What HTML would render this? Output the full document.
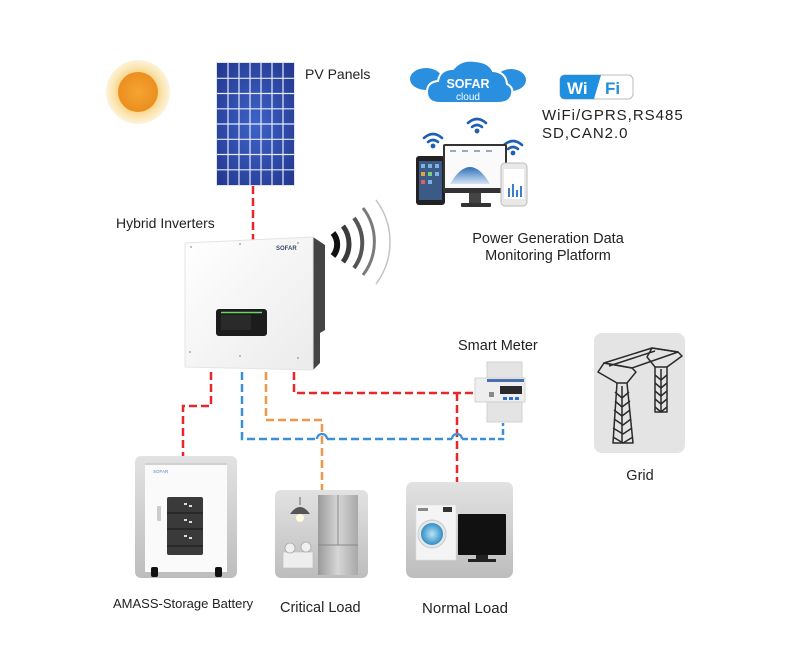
<!DOCTYPE html>
<html><head><meta charset="utf-8"><style>
html,body{margin:0;padding:0;background:#fff;}
svg{display:block;}
text{font-family:"Liberation Sans",Arial,sans-serif;fill:#222;}
</style></head><body>
<svg width="800" height="660" viewBox="0 0 800 660" xmlns="http://www.w3.org/2000/svg">
<defs>
<radialGradient id="sun" cx="50%" cy="50%" r="50%"><stop offset="0" stop-color="#f4a433"/><stop offset="1" stop-color="#ec8f1e"/></radialGradient>
<radialGradient id="halo" cx="50%" cy="50%" r="50%"><stop offset="0.6" stop-color="#f8d48a"/><stop offset="0.8" stop-color="#fbe6b4"/><stop offset="1" stop-color="#fdf3dc"/></radialGradient>
<radialGradient id="pv" cx="50%" cy="50%" r="70%"><stop offset="0" stop-color="#3e63c8"/><stop offset="1" stop-color="#23378e"/></radialGradient>
<linearGradient id="inv" x1="0" y1="0" x2="1" y2="1"><stop offset="0" stop-color="#ffffff"/><stop offset="1" stop-color="#ebebeb"/></linearGradient>
<linearGradient id="box" x1="0" y1="0" x2="0" y2="1"><stop offset="0" stop-color="#e2e2e2"/><stop offset="1" stop-color="#bdbdbd"/></linearGradient>
<linearGradient id="fridge" x1="0" y1="0" x2="1" y2="0"><stop offset="0" stop-color="#9a9a9a"/><stop offset="0.5" stop-color="#d6d6d6"/><stop offset="1" stop-color="#a8a8a8"/></linearGradient>
<radialGradient id="drum" cx="50%" cy="50%" r="50%"><stop offset="0" stop-color="#bfe3f5"/><stop offset="1" stop-color="#2f8fc8"/></radialGradient>
<linearGradient id="mount" x1="0" y1="0" x2="0" y2="1"><stop offset="0" stop-color="#2e6fb8"/><stop offset="1" stop-color="#d6e6f5"/></linearGradient>
</defs>

<!-- Sun -->
<circle cx="138" cy="92" r="32" fill="url(#halo)"/>
<circle cx="138" cy="92" r="20" fill="url(#sun)"/>

<!-- PV panel -->
<rect x="216" y="62" width="79" height="124" fill="#dfe3ee"/>
<rect x="217" y="63" width="77" height="122" fill="url(#pv)"/>
<g stroke="#e6ebf7" stroke-width="1.2">
<line x1="228" y1="63" x2="228" y2="185"/><line x1="239" y1="63" x2="239" y2="185"/><line x1="250" y1="63" x2="250" y2="185"/><line x1="261" y1="63" x2="261" y2="185"/><line x1="272" y1="63" x2="272" y2="185"/><line x1="283" y1="63" x2="283" y2="185"/>
<line x1="217" y1="78.3" x2="294" y2="78.3"/><line x1="217" y1="93.5" x2="294" y2="93.5"/><line x1="217" y1="108.8" x2="294" y2="108.8"/><line x1="217" y1="124" x2="294" y2="124"/><line x1="217" y1="139.3" x2="294" y2="139.3"/><line x1="217" y1="154.5" x2="294" y2="154.5"/><line x1="217" y1="169.8" x2="294" y2="169.8"/>
</g>
<text x="305" y="79" font-size="14">PV Panels</text>

<!-- Cloud -->
<g fill="#2b8fdf">
<ellipse cx="426" cy="79" rx="16" ry="11"/>
<ellipse cx="511" cy="80" rx="15" ry="11"/>
</g>
<g fill="#2b8fdf" stroke="#fff" stroke-width="2">
<path d="M440 103 Q427 103 427 92 Q427 82 438 81 Q440 69 453 69 Q461 59 475 61 Q489 62 493 71 Q506 72 507 84 Q515 88 511 97 Q508 103 498 103 Z"/>
</g>
<text x="468" y="88" font-size="12.5" font-weight="bold" text-anchor="middle" style="fill:#fff">SOFAR</text>
<text x="468" y="100" font-size="10" text-anchor="middle" style="fill:#fff">cloud</text>

<!-- WiFi logo -->
<rect x="560" y="75" width="73" height="24" rx="5" fill="#fff" stroke="#bbb" stroke-width="1"/>
<path d="M565 75 L601 75 L594 99 L565 99 Q560 99 560 94 L560 80 Q560 75 565 75 Z" fill="#1f8fe0"/>
<text x="567" y="94" font-size="17" font-weight="bold" style="fill:#fff">Wi</text>
<text x="605" y="94" font-size="17" font-weight="bold" style="fill:#1f8fe0">Fi</text>
<text x="542" y="120" font-size="15" letter-spacing="1">WiFi/GPRS,RS485</text>
<text x="542" y="138" font-size="15" letter-spacing="1">SD,CAN2.0</text>

<!-- Wifi icons -->
<g fill="none" stroke="#1c5fb4" stroke-width="2.6" stroke-linecap="round">
<path d="M424 138 Q433 130 442 138"/><path d="M428 142 Q433 138 438 142"/>
<path d="M468 123 Q477 115 486 123"/><path d="M472 127 Q477 123 482 127"/>
<path d="M504 145 Q513 137 522 145"/><path d="M508 149 Q513 145 518 149"/>
</g>
<g fill="#1c5fb4"><circle cx="433" cy="146" r="2.4"/><circle cx="477" cy="131" r="2.4"/><circle cx="513" cy="153" r="2.4"/></g>

<!-- Devices -->
<rect x="416" y="156" width="29" height="49" rx="3" fill="#222"/>
<rect x="419" y="161" width="23" height="39" fill="#3b5b86"/>
<g fill="#7fb2e0"><rect x="421" y="164" width="4" height="4"/><rect x="428" y="164" width="4" height="4"/><rect x="435" y="164" width="4" height="4"/><rect x="421" y="172" width="4" height="4" fill="#e8a040"/><rect x="428" y="172" width="4" height="4" fill="#7ad07a"/><rect x="435" y="172" width="4" height="4"/><rect x="421" y="180" width="4" height="4" fill="#e06060"/><rect x="428" y="180" width="4" height="4"/></g>
<rect x="443" y="144" width="64" height="49" rx="2" fill="#333"/>
<rect x="445" y="146" width="60" height="42" fill="#fafafa"/>
<path d="M450 184 Q470 150 490 184 Z" fill="url(#mount)"/>
<g fill="#9ab"><rect x="450" y="150" width="6" height="2"/><rect x="462" y="150" width="6" height="2"/><rect x="474" y="150" width="6" height="2"/><rect x="486" y="150" width="6" height="2"/></g>
<rect x="469" y="193" width="12" height="11" fill="#444"/>
<rect x="461" y="203" width="30" height="4" rx="1" fill="#333"/>
<rect x="501" y="163" width="26" height="43" rx="4" fill="#e8e8e8" stroke="#bbb" stroke-width="1"/>
<rect x="504" y="169" width="20" height="30" fill="#fff"/>
<g fill="#3a7fc8"><rect x="508" y="188" width="2" height="9"/><rect x="512" y="184" width="2" height="13"/><rect x="516" y="190" width="2" height="7"/><rect x="520" y="186" width="2" height="11"/></g>

<text x="548" y="243" font-size="14.5" text-anchor="middle">Power Generation Data</text>
<text x="548" y="260" font-size="14.5" text-anchor="middle">Monitoring Platform</text>

<!-- Connectors -->
<g fill="none" stroke-width="2.5" stroke-dasharray="8 4">
<path d="M253 186 L253 240" stroke="#e8262b"/>
<path d="M211 372 L211 406 L183 406 L183 456" stroke="#e8262b"/>
<path d="M294 372 L294 393 L473 393" stroke="#e8262b"/>
<path d="M457 393 L457 482" stroke="#e8262b"/>
<path d="M266 372 L266 420 L322 420 L322 490" stroke="#f0984a"/>
<path d="M242 372 L242 439 L317 439" stroke="#3a8fd6"/>
<path d="M327 439 L452 439" stroke="#3a8fd6"/>
<path d="M462 439 L503 439 L503 423" stroke="#3a8fd6" stroke-dasharray="6 3"/>
</g>
<g fill="none" stroke="#3a8fd6" stroke-width="2.2">
<path d="M317 439 A5 5 0 0 1 327 439"/>
<path d="M452 439 A5 5 0 0 1 462 439"/>
</g>

<!-- Inverter -->
<text x="116" y="228" font-size="14">Hybrid Inverters</text>
<polygon points="313,237 325,245 325,330 320,333 320,363 313,370" fill="#444"/>
<polygon points="185,243 313,237 313,370 185,367" fill="url(#inv)" stroke="#e4e4e4" stroke-width="1"/>
<g fill="#aaa"><circle cx="191" cy="247" r="1"/><circle cx="240" cy="244" r="1"/><circle cx="298" cy="243" r="1"/><circle cx="190" cy="352" r="1"/><circle cx="240" cy="356" r="1"/><circle cx="298" cy="358" r="1"/></g>
<text x="276" y="250" font-size="6" font-weight="bold" style="fill:#3a4a6a">SOFAR</text>
<rect x="216" y="309" width="51" height="27" rx="3" fill="#1c1c1c"/>
<line x1="221" y1="312.5" x2="262" y2="312.5" stroke="#6fd46a" stroke-width="1.5"/>
<rect x="221" y="315" width="30" height="15" fill="#2a2a2a"/>

<!-- Signal waves -->
<g fill="none" stroke-linecap="butt">
<path d="M333 233 A18 18 0 0 1 333 256" stroke="#111" stroke-width="6"/>
<path d="M343 226 A30 30 0 0 1 343 262" stroke="#3a3a3a" stroke-width="5"/>
<path d="M354 218 A42 42 0 0 1 354 268" stroke="#555" stroke-width="4"/>
<path d="M363 208 A55 55 0 0 1 363 275" stroke="#7a7a7a" stroke-width="3"/>
<path d="M376 200 A70 70 0 0 1 376 284" stroke="#c4c4c4" stroke-width="1.5"/>
</g>

<!-- Smart meter -->
<text x="458" y="350" font-size="14.5">Smart Meter</text>
<rect x="487" y="362" width="35" height="18" fill="#e4e4e4" stroke="#ccc" stroke-width="0.8"/>
<rect x="475" y="378" width="50" height="24" fill="#eee" stroke="#ccc" stroke-width="0.8"/>
<rect x="487" y="402" width="35" height="20" fill="#e4e4e4" stroke="#ccc" stroke-width="0.8"/>
<rect x="487" y="379" width="37" height="3" fill="#4a6fb0"/>
<rect x="500" y="386" width="22" height="8" fill="#2a2a2a"/>
<g fill="#2a6fd0"><rect x="503" y="397" width="4" height="3"/><rect x="509" y="397" width="4" height="3"/><rect x="515" y="397" width="4" height="3"/></g>
<rect x="489" y="392" width="5" height="5" fill="#888"/>

<!-- Grid -->
<rect x="594" y="333" width="91" height="120" rx="8" fill="#e4e4e4"/>
<g fill="none" stroke="#2a2a2a" stroke-width="1.5" stroke-linejoin="round">
<path d="M604 363 L652 348 L678 352 L632 368 Z"/>
<path d="M609 366 L655 351"/>
<path d="M598 372 L604 363 L632 368 L636 372 L627 383 L617 383 Z"/>
<path d="M617 383 L613 443 L633 443 L627 383"/>
<path d="M615 392 L622 398 L629 392 M615 401 L622 407 L630 401 M614 410 L622 416 L630 410 M614 419 L623 425 L631 419 M613 428 L623 434 L632 428 M613 437 L623 443 L633 437"/>
<path d="M622 386 L622 443"/>
<path d="M647 357 L652 348 L678 352 L682 356 L667 367 L655 367 Z"/>
<path d="M655 367 L655 412 L667 412 L667 367"/>
<path d="M655 375 L661 380 L667 375 M655 383 L661 388 L667 383 M655 391 L661 396 L667 391 M655 399 L661 404 L667 399 M655 407 L661 412 L667 407"/>
<path d="M661 369 L661 412"/>
</g>
<text x="640" y="480" font-size="14.5" text-anchor="middle">Grid</text>

<!-- Battery -->
<rect x="135" y="456" width="102" height="122" rx="6" fill="url(#box)"/>
<rect x="145" y="463" width="82" height="109" fill="#fafafa"/>
<rect x="145" y="463" width="82" height="2" fill="#d0d0d0"/>
<text x="153" y="473" font-size="4.5" style="fill:#4a8ad0">SOFAR</text>
<rect x="157" y="506" width="4" height="15" rx="1" fill="#ccc"/>
<rect x="167" y="497" width="36" height="58" rx="2" fill="#3a3a3a"/>
<g stroke="#222" stroke-width="1.5"><line x1="167" y1="513" x2="203" y2="513"/><line x1="167" y1="529" x2="203" y2="529"/><line x1="167" y1="546" x2="203" y2="546"/></g>
<g fill="#ddd"><rect x="184" y="503" width="3" height="2"/><rect x="189" y="505" width="3" height="2"/><rect x="184" y="519" width="3" height="2"/><rect x="189" y="521" width="3" height="2"/><rect x="184" y="535" width="3" height="2"/><rect x="189" y="537" width="3" height="2"/></g>
<rect x="151" y="567" width="7" height="10" rx="2" fill="#111"/>
<rect x="215" y="567" width="7" height="10" rx="2" fill="#111"/>
<text x="113" y="608" font-size="13">AMASS-Storage Battery</text>

<!-- Critical load -->
<rect x="275" y="490" width="93" height="88" rx="6" fill="url(#box)"/>
<rect x="318" y="495" width="40" height="80" fill="url(#fridge)"/>
<line x1="338" y1="495" x2="338" y2="545" stroke="#888" stroke-width="1"/>
<line x1="318" y1="545" x2="358" y2="545" stroke="#888" stroke-width="1"/>
<line x1="300" y1="497" x2="300" y2="505" stroke="#666" stroke-width="1"/>
<path d="M290 514 Q300 500 310 514 Z" fill="#555"/>
<circle cx="300" cy="518" r="4" fill="#fffbe0"/>
<rect x="283" y="552" width="30" height="16" fill="#eee" stroke="#bbb" stroke-width="0.6"/>
<circle cx="290" cy="548" r="5" fill="#f0f0f0" stroke="#aaa" stroke-width="0.8"/>
<circle cx="306" cy="547" r="5" fill="#f0f0f0" stroke="#aaa" stroke-width="0.8"/>
<text x="280" y="612" font-size="14.5">Critical Load</text>

<!-- Normal load -->
<rect x="406" y="482" width="107" height="96" rx="7" fill="url(#box)"/>
<rect x="416" y="505" width="40" height="55" fill="#f4f4f4" stroke="#ddd" stroke-width="0.6"/>
<rect x="418" y="508" width="10" height="3" fill="#888"/>
<rect x="443" y="507" width="9" height="5" fill="#333"/>
<circle cx="432" cy="534" r="14" fill="#e6e6e6" stroke="#ccc" stroke-width="1"/>
<circle cx="432" cy="534" r="11" fill="url(#drum)"/>
<rect x="458" y="514" width="48" height="41" rx="1" fill="#111"/>
<rect x="476" y="555" width="12" height="4" fill="#222"/>
<rect x="468" y="559" width="28" height="3" fill="#222"/>
<text x="465" y="613" font-size="15" text-anchor="middle">Normal Load</text>
</svg>
</body></html>
